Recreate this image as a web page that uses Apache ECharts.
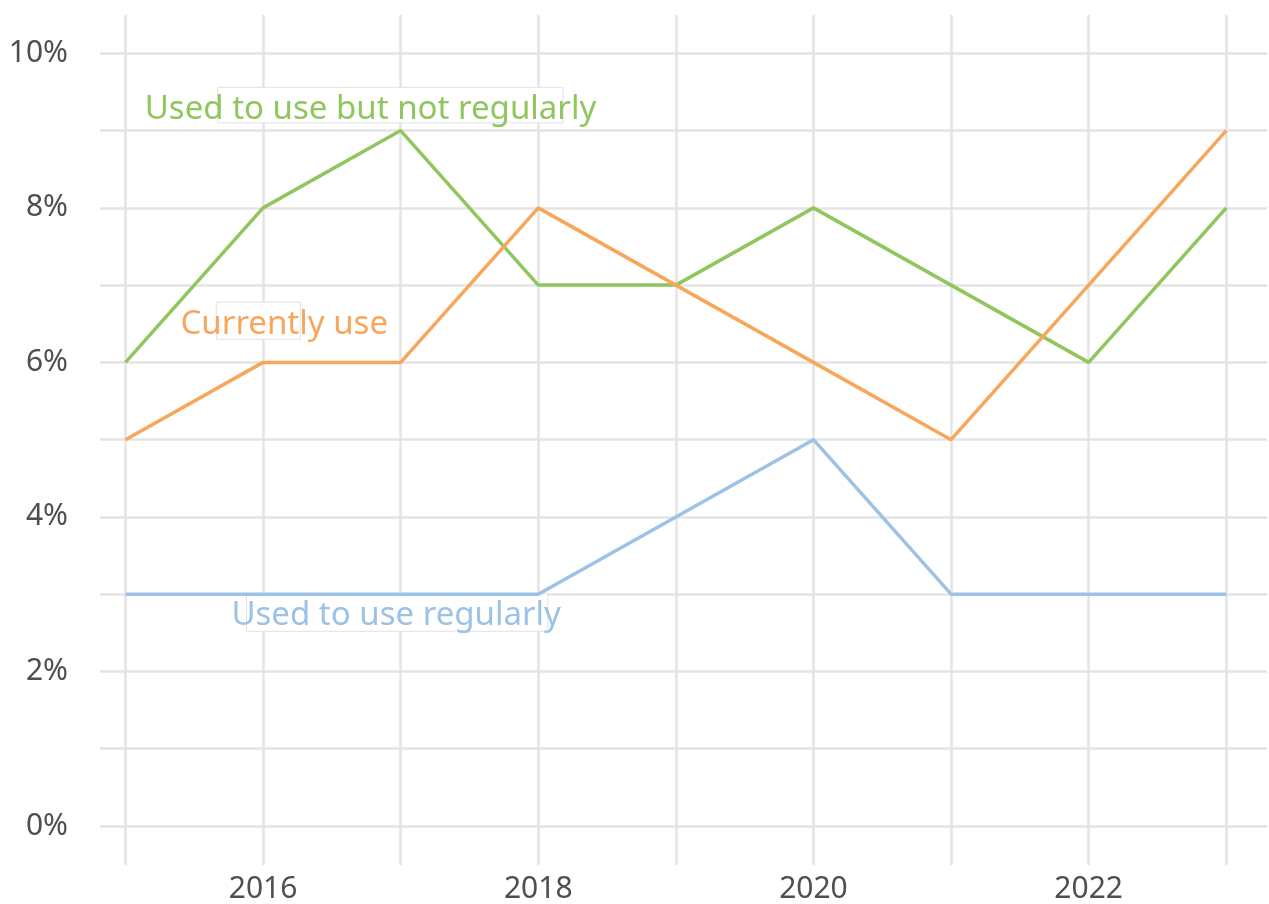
<!DOCTYPE html>
<html>
<head>
<meta charset="utf-8">
<script src="https://cdn.jsdelivr.net/npm/echarts@6/dist/echarts.min.js"></script>
<style>
  html, body { margin: 0; padding: 0; background: #ffffff; }
  #chart { width: 1269px; height: 904px; }
</style>
</head>
<body>
<div id="chart"></div>
<script>
// Survey years and share of respondents (%)
const years = [2015, 2016, 2017, 2018, 2019, 2020, 2021, 2022, 2023];
const notRegularly = [6, 8, 9, 7, 7, 8, 7, 6, 8];
const currentlyUse = [5, 6, 6, 8, 7, 6, 5, 7, 9];
const usedRegularly = [3, 3, 3, 3, 4, 5, 3, 3, 3];

const seriesNames = ['Used to use but not regularly', 'Currently use', 'Used to use regularly'];
const seriesColors = ['#8fc65e', '#f8a65a', '#9cc2e6'];

// Where each series name sits, and the white tag behind it (data coordinates)
const labelAnchors = [[2015.14, 9.27], [2015.40, 6.49], [2015.77, 2.72]];
const tagBoxes = [
  [[2015.67, 9.56], [2018.18, 9.10]],
  [[2015.66, 6.78], [2016.27, 6.30]],
  [[2015.88, 3.01], [2018.07, 2.52]]
];

const FONT = '"Noto Sans", "DejaVu Sans", sans-serif';

function makeSeries(idx, values) {
  return {
    name: seriesNames[idx],
    type: 'line',
    data: years.map((y, i) => [y, values[i]]),
    symbol: 'none',
    lineStyle: { color: seriesColors[idx], width: 3.5 },
    itemStyle: { color: seriesColors[idx] },
    markArea: {
      silent: true,
      itemStyle: {
        color: '#ffffff',
        borderColor: '#e2e2e2',
        borderWidth: 1
      },
      data: [[{ coord: tagBoxes[idx][0] }, { coord: tagBoxes[idx][1] }]]
    },
    markPoint: {
      silent: true,
      symbol: 'circle',
      symbolSize: 0,
      data: [{ coord: labelAnchors[idx] }],
      label: {
        show: true,
        position: 'right',
        distance: 0,
        formatter: seriesNames[idx],
        color: seriesColors[idx],
        fontSize: 33,
        fontFamily: FONT
      }
    }
  };
}

const chart = echarts.init(document.getElementById('chart'), null, { renderer: 'canvas' });
chart.setOption({
  backgroundColor: '#ffffff',
  animation: false,
  grid: { left: 100, right: 2, top: 15, bottom: 39, containLabel: false },
  xAxis: {
    type: 'value',
    min: 2014.815,
    max: 2023.296,
    splitNumber: 9,
    minInterval: 1,
    maxInterval: 1,
    axisLine: { show: false },
    axisTick: { show: false },
    splitLine: {
      show: true,
      showMinLine: false,
      showMaxLine: false,
      lineStyle: { color: '#e4e4e4', width: 2.5 }
    },
    axisLabel: {
      margin: 9,
      color: '#4f4f4f',
      fontSize: 30,
      fontFamily: FONT,
      showMinLabel: false,
      showMaxLabel: false,
      formatter: v => (Number.isInteger(v) && v % 2 === 0) ? String(v) : ''
    }
  },
  yAxis: {
    type: 'value',
    min: -0.505,
    max: 10.496,
    splitNumber: 11,
    minInterval: 1,
    maxInterval: 1,
    axisLine: { show: false },
    axisTick: { show: false },
    splitLine: {
      show: true,
      showMinLine: false,
      showMaxLine: false,
      lineStyle: { color: '#e4e4e4', width: 2.5 }
    },
    axisLabel: {
      margin: 32,
      color: '#4f4f4f',
      fontSize: 30,
      fontFamily: FONT,
      showMinLabel: false,
      showMaxLabel: false,
      formatter: v => (Number.isInteger(v) && v % 2 === 0) ? v + '%' : ''
    }
  },
  series: [
    makeSeries(0, notRegularly),
    makeSeries(1, currentlyUse),
    makeSeries(2, usedRegularly)
  ]
});
</script>
</body>
</html>
